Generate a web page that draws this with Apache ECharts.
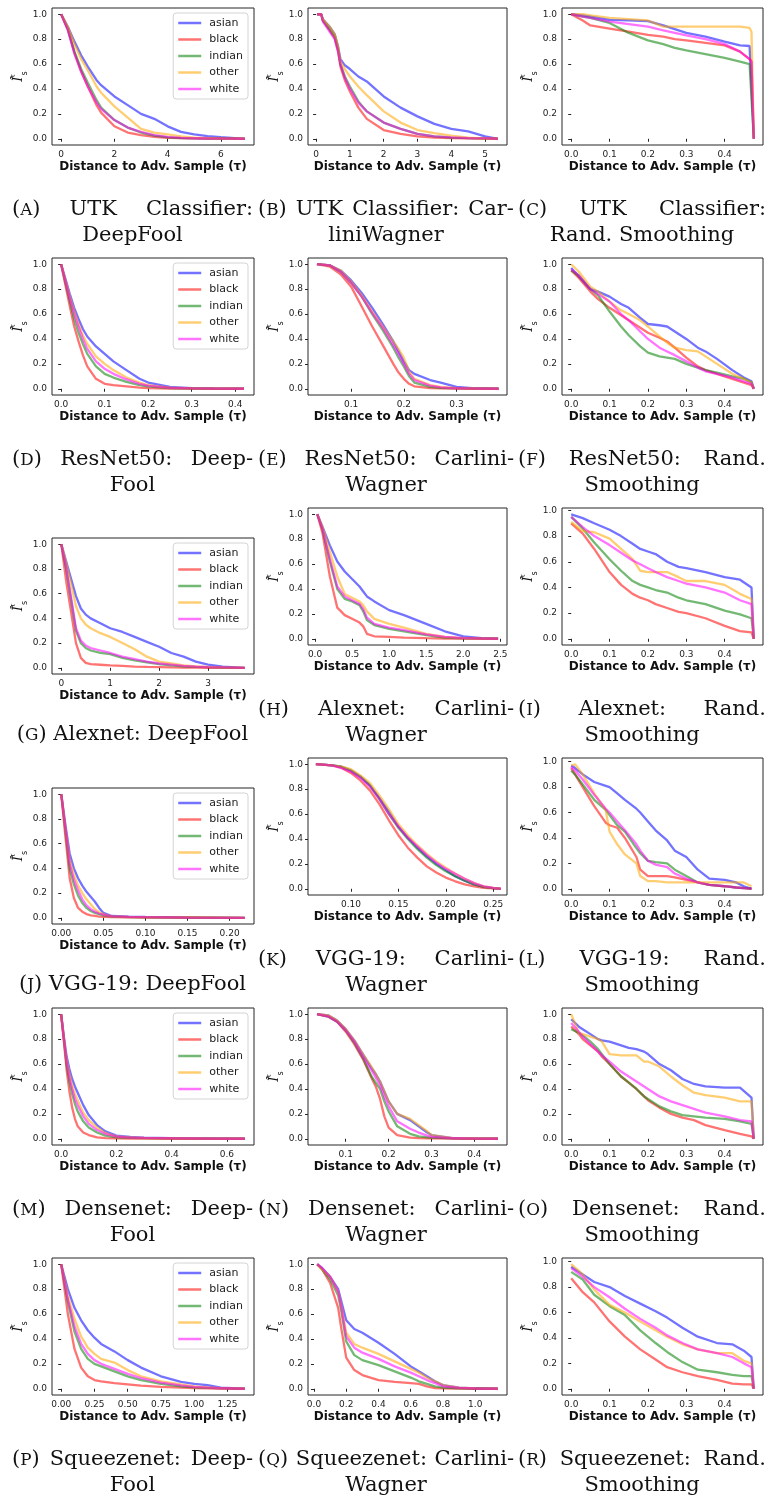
<!doctype html>
<html>
<head>
<meta charset="UTF-8">
<script src="https://cdn.jsdelivr.net/npm/echarts@6/dist/echarts.min.js"></script>
<style>
  body { margin: 0; background: #fff; }
  #wrap { position: relative; width: 771px; height: 1499px; overflow: hidden; }
  #fig { position: absolute; left: 0; top: 0; width: 771px; height: 1499px; }
  .cap { position: absolute; font-family: 'DejaVu Serif', serif; font-size: 21px; color: #111; line-height: 25px; }
  .cap .l1 { display: flex; justify-content: space-between; white-space: nowrap; }
  .cap .l2 { text-align: center; white-space: nowrap; }
  .cap .one { text-align: center; white-space: nowrap; }
  .sc { font-size: 0.8em; }
</style>
</head>
<body>
<div id="wrap"><div id="fig"></div></div>
<script>
// ---- data ----
var groups = ['asian', 'black', 'indian', 'other', 'white'];
var rsTicks = [0, 0.1, 0.2, 0.3, 0.4];
var yTicks = [0, 0.2, 0.4, 0.6, 0.8, 1.0];

// (A) UTK DeepFool
var aX = [0, 0.25, 0.5, 0.75, 1, 1.33, 1.5, 2, 2.5, 3, 3.5, 4, 4.5, 5, 5.5, 6, 6.9];
var aAsian = [1, 0.9, 0.78, 0.67, 0.58, 0.47, 0.43, 0.34, 0.27, 0.2, 0.16, 0.1, 0.055, 0.035, 0.022, 0.013, 0];
var aBlack = [1, 0.88, 0.69, 0.54, 0.42, 0.27, 0.21, 0.1, 0.05, 0.03, 0.015, 0.008, 0.005, 0.003, 0.002, 0.001, 0];
var aIndian = [1, 0.88, 0.7, 0.56, 0.45, 0.31, 0.25, 0.15, 0.09, 0.05, 0.025, 0.012, 0.006, 0.003, 0.001, 0, 0];
var aOther = [1, 0.9, 0.76, 0.64, 0.55, 0.42, 0.37, 0.26, 0.17, 0.08, 0.05, 0.035, 0.02, 0.01, 0.005, 0.002, 0];
var aWhite = [1, 0.87, 0.68, 0.54, 0.42, 0.29, 0.24, 0.15, 0.09, 0.055, 0.03, 0.015, 0.007, 0.004, 0.002, 0.001, 0];
var aTicks = [0, 2, 4, 6];

// (B) UTK CarliniWagner
var bX = [0.03, 0.15, 0.2, 0.4, 0.55, 0.65, 0.72, 0.85, 1.0, 1.25, 1.5, 2, 2.5, 3, 3.5, 4, 4.5, 5, 5.38];
var bAsian = [1, 1, 0.96, 0.9, 0.84, 0.74, 0.64, 0.59, 0.56, 0.5, 0.46, 0.34, 0.25, 0.18, 0.12, 0.08, 0.06, 0.02, 0];
var bBlack = [1, 1, 0.95, 0.87, 0.81, 0.7, 0.58, 0.47, 0.38, 0.25, 0.16, 0.07, 0.04, 0.02, 0.01, 0.005, 0.003, 0.001, 0];
var bIndian = [1, 1, 0.95, 0.88, 0.82, 0.72, 0.6, 0.5, 0.42, 0.3, 0.22, 0.13, 0.08, 0.04, 0.02, 0.01, 0.005, 0.002, 0];
var bOther = [1, 1, 0.96, 0.9, 0.84, 0.74, 0.62, 0.56, 0.5, 0.42, 0.35, 0.22, 0.13, 0.07, 0.045, 0.025, 0.01, 0.002, 0];
var bWhite = [1, 1, 0.94, 0.86, 0.8, 0.7, 0.6, 0.49, 0.4, 0.29, 0.22, 0.13, 0.08, 0.04, 0.02, 0.012, 0.006, 0.003, 0];
var bTicks = [0, 1, 2, 3, 4, 5];

// (C) UTK Rand. Smoothing
var cX = [0, 0.03, 0.05, 0.1, 0.15, 0.2, 0.24, 0.27, 0.3, 0.35, 0.4, 0.44, 0.465, 0.47, 0.476];
var cAsian = [1, 0.99, 0.98, 0.955, 0.95, 0.945, 0.91, 0.88, 0.85, 0.82, 0.78, 0.75, 0.745, 0.74, 0];
var cBlack = [1, 0.95, 0.91, 0.885, 0.86, 0.835, 0.82, 0.8, 0.79, 0.77, 0.75, 0.7, 0.64, 0.62, 0];
var cIndian = [1, 0.98, 0.97, 0.93, 0.85, 0.79, 0.76, 0.73, 0.71, 0.68, 0.65, 0.62, 0.6, 0.59, 0];
var cOther = [1, 1, 0.99, 0.97, 0.96, 0.95, 0.9, 0.9, 0.9, 0.9, 0.9, 0.9, 0.89, 0.86, 0];
var cWhite = [1, 0.98, 0.97, 0.94, 0.92, 0.9, 0.87, 0.85, 0.83, 0.8, 0.76, 0.7, 0.64, 0.62, 0];

// (D) ResNet50 DeepFool
var dX = [0, 0.01, 0.02, 0.03, 0.04, 0.05, 0.06, 0.08, 0.1, 0.12, 0.15, 0.18, 0.2, 0.25, 0.3, 0.35, 0.42];
var dAsian = [1, 0.88, 0.76, 0.65, 0.56, 0.48, 0.42, 0.34, 0.28, 0.22, 0.15, 0.08, 0.05, 0.015, 0.005, 0.002, 0];
var dBlack = [1, 0.83, 0.66, 0.5, 0.38, 0.27, 0.18, 0.08, 0.04, 0.03, 0.02, 0.01, 0.005, 0.002, 0.001, 0, 0];
var dIndian = [1, 0.85, 0.7, 0.56, 0.45, 0.36, 0.28, 0.18, 0.12, 0.09, 0.055, 0.03, 0.02, 0.006, 0.002, 0.001, 0];
var dOther = [1, 0.87, 0.74, 0.62, 0.52, 0.43, 0.36, 0.26, 0.2, 0.15, 0.09, 0.05, 0.03, 0.01, 0.003, 0.001, 0];
var dWhite = [1, 0.86, 0.72, 0.6, 0.5, 0.4, 0.32, 0.22, 0.16, 0.12, 0.075, 0.04, 0.025, 0.008, 0.003, 0.001, 0];

// (E) ResNet50 CarliniWagner
var eX = [0.035, 0.06, 0.08, 0.1, 0.12, 0.14, 0.16, 0.18, 0.19, 0.2, 0.21, 0.22, 0.25, 0.27, 0.3, 0.33, 0.38];
var eAsian = [1, 0.99, 0.95, 0.87, 0.77, 0.65, 0.52, 0.38, 0.3, 0.22, 0.15, 0.12, 0.07, 0.05, 0.015, 0.005, 0];
var eBlack = [1, 0.98, 0.92, 0.82, 0.66, 0.5, 0.35, 0.2, 0.13, 0.08, 0.04, 0.02, 0.005, 0.003, 0.001, 0, 0];
var eIndian = [1, 0.99, 0.94, 0.85, 0.74, 0.6, 0.47, 0.33, 0.25, 0.18, 0.1, 0.05, 0.015, 0.008, 0.003, 0.001, 0];
var eOther = [1, 0.99, 0.95, 0.86, 0.75, 0.62, 0.5, 0.38, 0.32, 0.25, 0.14, 0.08, 0.03, 0.015, 0.005, 0.002, 0];
var eWhite = [1, 0.99, 0.94, 0.85, 0.74, 0.61, 0.49, 0.35, 0.28, 0.2, 0.12, 0.07, 0.025, 0.012, 0.004, 0.001, 0];
var eTicks = [0.1, 0.2, 0.3];

// (F) ResNet50 Rand. Smoothing
var fX = [0, 0.02, 0.05, 0.07, 0.1, 0.13, 0.15, 0.18, 0.2, 0.23, 0.25, 0.27, 0.3, 0.33, 0.35, 0.38, 0.42, 0.45, 0.47, 0.476];
var fAsian = [0.97, 0.9, 0.8, 0.78, 0.74, 0.68, 0.65, 0.57, 0.52, 0.51, 0.5, 0.46, 0.4, 0.33, 0.3, 0.24, 0.15, 0.09, 0.06, 0];
var fBlack = [0.95, 0.89, 0.78, 0.72, 0.65, 0.59, 0.55, 0.49, 0.45, 0.41, 0.38, 0.33, 0.25, 0.18, 0.15, 0.12, 0.08, 0.05, 0.03, 0];
var fIndian = [0.95, 0.91, 0.8, 0.75, 0.62, 0.5, 0.43, 0.34, 0.29, 0.26, 0.25, 0.24, 0.2, 0.17, 0.15, 0.13, 0.1, 0.08, 0.05, 0];
var fOther = [1, 0.94, 0.82, 0.78, 0.7, 0.63, 0.6, 0.55, 0.5, 0.42, 0.37, 0.33, 0.31, 0.3, 0.26, 0.2, 0.12, 0.08, 0.05, 0];
var fWhite = [0.96, 0.91, 0.8, 0.76, 0.7, 0.6, 0.55, 0.46, 0.4, 0.33, 0.3, 0.27, 0.22, 0.17, 0.14, 0.12, 0.09, 0.06, 0.04, 0];

// (G) Alexnet DeepFool
var gX = [0, 0.1, 0.2, 0.3, 0.4, 0.5, 0.6, 0.8, 1.0, 1.25, 1.5, 1.75, 2, 2.25, 2.5, 2.75, 3, 3.3, 3.75];
var gAsian = [1, 0.86, 0.72, 0.58, 0.48, 0.43, 0.4, 0.36, 0.32, 0.29, 0.25, 0.21, 0.17, 0.12, 0.09, 0.05, 0.025, 0.01, 0];
var gBlack = [1, 0.7, 0.45, 0.2, 0.08, 0.04, 0.03, 0.025, 0.02, 0.015, 0.01, 0.007, 0.005, 0.003, 0.002, 0.001, 0, 0, 0];
var gIndian = [1, 0.8, 0.55, 0.3, 0.2, 0.16, 0.14, 0.12, 0.11, 0.08, 0.06, 0.045, 0.03, 0.02, 0.012, 0.008, 0.005, 0.002, 0];
var gOther = [1, 0.85, 0.68, 0.5, 0.4, 0.35, 0.32, 0.28, 0.25, 0.2, 0.15, 0.09, 0.05, 0.035, 0.02, 0.012, 0.008, 0.004, 0];
var gWhite = [1, 0.81, 0.57, 0.32, 0.22, 0.18, 0.16, 0.14, 0.12, 0.09, 0.07, 0.05, 0.035, 0.025, 0.015, 0.01, 0.006, 0.003, 0];
var gTicks = [0, 1, 2, 3];

// (H) Alexnet CarliniWagner
var hX = [0.03, 0.1, 0.2, 0.3, 0.4, 0.5, 0.6, 0.65, 0.7, 0.8, 1.0, 1.2, 1.5, 1.75, 2.0, 2.25, 2.47];
var hAsian = [1, 0.9, 0.75, 0.62, 0.54, 0.48, 0.42, 0.38, 0.34, 0.3, 0.23, 0.19, 0.12, 0.06, 0.02, 0.005, 0];
var hBlack = [1, 0.85, 0.5, 0.25, 0.19, 0.16, 0.13, 0.1, 0.04, 0.02, 0.015, 0.01, 0.005, 0.002, 0.001, 0, 0];
var hIndian = [1, 0.88, 0.62, 0.4, 0.32, 0.3, 0.27, 0.22, 0.15, 0.11, 0.08, 0.06, 0.03, 0.01, 0.003, 0.001, 0];
var hOther = [1, 0.9, 0.7, 0.5, 0.36, 0.33, 0.3, 0.27, 0.22, 0.16, 0.12, 0.09, 0.04, 0.015, 0.005, 0.002, 0];
var hWhite = [1, 0.88, 0.64, 0.42, 0.34, 0.31, 0.28, 0.24, 0.17, 0.12, 0.09, 0.07, 0.035, 0.015, 0.005, 0.002, 0];
var hTicks = [0, 0.5, 1.0, 1.5, 2.0, 2.5];

// (I) Alexnet Rand. Smoothing
var iX = [0, 0.03, 0.06, 0.1, 0.13, 0.16, 0.18, 0.2, 0.22, 0.25, 0.28, 0.3, 0.35, 0.4, 0.44, 0.47, 0.476];
var iAsian = [0.97, 0.94, 0.9, 0.85, 0.8, 0.74, 0.7, 0.68, 0.66, 0.6, 0.56, 0.55, 0.52, 0.48, 0.46, 0.4, 0];
var iBlack = [0.9, 0.82, 0.7, 0.52, 0.42, 0.35, 0.32, 0.3, 0.27, 0.24, 0.21, 0.2, 0.16, 0.1, 0.06, 0.05, 0];
var iIndian = [0.95, 0.86, 0.75, 0.62, 0.53, 0.45, 0.42, 0.4, 0.38, 0.36, 0.32, 0.3, 0.27, 0.22, 0.19, 0.16, 0];
var iOther = [0.91, 0.84, 0.83, 0.78, 0.7, 0.62, 0.53, 0.52, 0.52, 0.52, 0.48, 0.45, 0.45, 0.42, 0.35, 0.31, 0];
var iWhite = [0.95, 0.87, 0.8, 0.73, 0.67, 0.61, 0.58, 0.55, 0.52, 0.48, 0.45, 0.43, 0.4, 0.36, 0.3, 0.27, 0];

// (J) VGG-19 DeepFool
var jX = [0, 0.005, 0.01, 0.015, 0.02, 0.025, 0.03, 0.035, 0.04, 0.045, 0.05, 0.06, 0.08, 0.1, 0.15, 0.218];
var jAsian = [1, 0.75, 0.52, 0.4, 0.32, 0.26, 0.21, 0.17, 0.13, 0.08, 0.04, 0.015, 0.01, 0.007, 0.004, 0];
var jBlack = [1, 0.65, 0.32, 0.16, 0.08, 0.05, 0.03, 0.02, 0.015, 0.01, 0.008, 0.005, 0.003, 0.002, 0.001, 0];
var jIndian = [1, 0.7, 0.4, 0.27, 0.18, 0.12, 0.08, 0.055, 0.04, 0.03, 0.02, 0.01, 0.006, 0.004, 0.002, 0];
var jOther = [1, 0.73, 0.47, 0.35, 0.26, 0.2, 0.15, 0.11, 0.07, 0.045, 0.03, 0.012, 0.008, 0.005, 0.003, 0];
var jWhite = [1, 0.72, 0.44, 0.31, 0.22, 0.15, 0.1, 0.07, 0.05, 0.035, 0.025, 0.012, 0.007, 0.005, 0.002, 0];
var jTicks = [0, 0.05, 0.1, 0.15, 0.2];

// (K) VGG-19 CarliniWagner
var kX = [0.063, 0.08, 0.09, 0.1, 0.11, 0.12, 0.13, 0.14, 0.15, 0.16, 0.17, 0.18, 0.19, 0.2, 0.21, 0.22, 0.23, 0.24, 0.25, 0.258];
var kAsian = [1, 0.99, 0.98, 0.95, 0.9, 0.83, 0.73, 0.62, 0.5, 0.41, 0.33, 0.26, 0.2, 0.15, 0.1, 0.065, 0.035, 0.015, 0.005, 0];
var kBlack = [1, 0.99, 0.97, 0.93, 0.87, 0.79, 0.68, 0.55, 0.43, 0.33, 0.25, 0.18, 0.13, 0.09, 0.06, 0.035, 0.02, 0.008, 0.003, 0];
var kIndian = [1, 0.99, 0.98, 0.95, 0.9, 0.83, 0.72, 0.6, 0.49, 0.4, 0.32, 0.25, 0.19, 0.14, 0.1, 0.065, 0.035, 0.015, 0.005, 0];
var kOther = [1, 0.99, 0.98, 0.96, 0.91, 0.85, 0.75, 0.64, 0.52, 0.43, 0.35, 0.28, 0.22, 0.17, 0.12, 0.08, 0.045, 0.02, 0.007, 0];
var kWhite = [1, 0.99, 0.97, 0.94, 0.89, 0.82, 0.72, 0.6, 0.5, 0.41, 0.34, 0.27, 0.21, 0.16, 0.12, 0.08, 0.045, 0.02, 0.007, 0];
var kTicks = [0.1, 0.15, 0.2, 0.25];

// (L) VGG-19 Rand. Smoothing
var lX = [0, 0.01, 0.03, 0.06, 0.09, 0.1, 0.12, 0.14, 0.17, 0.18, 0.2, 0.22, 0.25, 0.27, 0.3, 0.33, 0.36, 0.4, 0.43, 0.45, 0.47];
var lAsian = [0.97, 0.95, 0.9, 0.84, 0.81, 0.8, 0.75, 0.7, 0.63, 0.6, 0.53, 0.46, 0.38, 0.3, 0.25, 0.15, 0.08, 0.07, 0.05, 0.02, 0];
var lBlack = [0.95, 0.9, 0.8, 0.65, 0.52, 0.5, 0.48, 0.4, 0.25, 0.15, 0.1, 0.1, 0.1, 0.09, 0.07, 0.05, 0.03, 0.02, 0.01, 0.005, 0];
var lIndian = [0.93, 0.9, 0.82, 0.7, 0.62, 0.58, 0.5, 0.45, 0.32, 0.28, 0.22, 0.21, 0.2, 0.15, 0.1, 0.05, 0.03, 0.02, 0.01, 0.005, 0.002];
var lOther = [0.97, 0.98, 0.9, 0.75, 0.62, 0.45, 0.35, 0.27, 0.2, 0.1, 0.06, 0.06, 0.05, 0.05, 0.05, 0.05, 0.05, 0.05, 0.05, 0.05, 0.02];
var lWhite = [0.96, 0.93, 0.86, 0.74, 0.63, 0.6, 0.53, 0.46, 0.35, 0.3, 0.22, 0.19, 0.17, 0.12, 0.08, 0.05, 0.03, 0.02, 0.01, 0.005, 0.002];

// (M) Densenet DeepFool
var mX = [0, 0.01, 0.02, 0.03, 0.04, 0.05, 0.06, 0.08, 0.1, 0.13, 0.16, 0.2, 0.25, 0.3, 0.4, 0.5, 0.665];
var mAsian = [1, 0.82, 0.66, 0.56, 0.48, 0.42, 0.37, 0.27, 0.19, 0.11, 0.06, 0.025, 0.015, 0.01, 0.005, 0.003, 0];
var mBlack = [1, 0.78, 0.55, 0.38, 0.25, 0.16, 0.1, 0.05, 0.03, 0.012, 0.006, 0.003, 0.002, 0.001, 0, 0, 0];
var mIndian = [1, 0.8, 0.59, 0.46, 0.36, 0.28, 0.22, 0.14, 0.09, 0.05, 0.025, 0.012, 0.008, 0.005, 0.003, 0.001, 0];
var mOther = [1, 0.81, 0.63, 0.52, 0.43, 0.36, 0.31, 0.21, 0.15, 0.09, 0.045, 0.02, 0.012, 0.008, 0.004, 0.002, 0];
var mWhite = [1, 0.8, 0.61, 0.49, 0.4, 0.32, 0.27, 0.18, 0.12, 0.07, 0.04, 0.018, 0.01, 0.007, 0.004, 0.002, 0];
var mTicks = [0, 0.2, 0.4, 0.6];

// (N) Densenet CarliniWagner
var nX = [0.033, 0.06, 0.08, 0.1, 0.12, 0.14, 0.16, 0.17, 0.18, 0.19, 0.2, 0.22, 0.25, 0.27, 0.29, 0.3, 0.35, 0.4, 0.455];
var nAsian = [1, 0.99, 0.95, 0.88, 0.79, 0.68, 0.57, 0.52, 0.46, 0.38, 0.3, 0.2, 0.15, 0.1, 0.05, 0.03, 0.006, 0.002, 0];
var nBlack = [1, 0.98, 0.94, 0.86, 0.76, 0.64, 0.49, 0.42, 0.32, 0.18, 0.09, 0.03, 0.01, 0.006, 0.004, 0.003, 0.001, 0, 0];
var nIndian = [1, 0.98, 0.94, 0.87, 0.77, 0.65, 0.5, 0.45, 0.4, 0.3, 0.22, 0.1, 0.04, 0.02, 0.012, 0.01, 0.003, 0.001, 0];
var nOther = [1, 0.99, 0.95, 0.88, 0.79, 0.68, 0.58, 0.52, 0.46, 0.38, 0.3, 0.2, 0.16, 0.11, 0.06, 0.03, 0.006, 0.002, 0];
var nWhite = [1, 0.98, 0.94, 0.87, 0.78, 0.66, 0.55, 0.49, 0.43, 0.34, 0.26, 0.14, 0.08, 0.05, 0.025, 0.015, 0.004, 0.001, 0];
var nTicks = [0.1, 0.2, 0.3, 0.4];

// (O) Densenet Rand. Smoothing
var oX = [0, 0.02, 0.03, 0.05, 0.07, 0.08, 0.1, 0.13, 0.15, 0.17, 0.19, 0.2, 0.23, 0.26, 0.29, 0.32, 0.35, 0.4, 0.44, 0.47, 0.476];
var oAsian = [0.96, 0.9, 0.88, 0.84, 0.8, 0.79, 0.78, 0.75, 0.73, 0.72, 0.7, 0.68, 0.6, 0.55, 0.48, 0.44, 0.42, 0.41, 0.41, 0.33, 0];
var oBlack = [0.9, 0.84, 0.8, 0.75, 0.7, 0.66, 0.6, 0.5, 0.45, 0.4, 0.34, 0.31, 0.25, 0.2, 0.17, 0.15, 0.11, 0.07, 0.04, 0.02, 0];
var oIndian = [0.88, 0.85, 0.83, 0.78, 0.72, 0.68, 0.6, 0.5, 0.45, 0.4, 0.34, 0.32, 0.26, 0.22, 0.19, 0.18, 0.17, 0.16, 0.14, 0.12, 0];
var oOther = [1, 0.85, 0.84, 0.82, 0.8, 0.78, 0.68, 0.67, 0.67, 0.67, 0.62, 0.62, 0.58, 0.5, 0.43, 0.37, 0.35, 0.33, 0.3, 0.3, 0];
var oWhite = [0.93, 0.86, 0.82, 0.76, 0.7, 0.67, 0.62, 0.54, 0.5, 0.46, 0.42, 0.4, 0.34, 0.3, 0.27, 0.24, 0.21, 0.18, 0.15, 0.14, 0];

// (P) Squeezenet DeepFool
var pX = [0, 0.05, 0.1, 0.15, 0.2, 0.25, 0.3, 0.4, 0.5, 0.6, 0.75, 0.9, 1.0, 1.1, 1.2, 1.38];
var pAsian = [1, 0.8, 0.65, 0.55, 0.47, 0.41, 0.36, 0.3, 0.23, 0.17, 0.1, 0.055, 0.04, 0.03, 0.01, 0];
var pBlack = [1, 0.6, 0.32, 0.17, 0.1, 0.07, 0.06, 0.045, 0.035, 0.025, 0.015, 0.01, 0.005, 0.003, 0.001, 0];
var pIndian = [1, 0.7, 0.46, 0.32, 0.24, 0.2, 0.18, 0.14, 0.1, 0.07, 0.04, 0.02, 0.012, 0.008, 0.003, 0];
var pOther = [1, 0.75, 0.56, 0.42, 0.33, 0.28, 0.24, 0.21, 0.15, 0.1, 0.06, 0.035, 0.02, 0.012, 0.005, 0];
var pWhite = [1, 0.72, 0.5, 0.36, 0.28, 0.23, 0.2, 0.16, 0.12, 0.085, 0.05, 0.028, 0.016, 0.01, 0.004, 0];
var pTicks = [0, 0.25, 0.5, 0.75, 1.0, 1.25];

// (Q) Squeezenet CarliniWagner
var qX = [0.02, 0.05, 0.1, 0.15, 0.17, 0.2, 0.25, 0.3, 0.4, 0.5, 0.6, 0.65, 0.7, 0.75, 0.8, 0.9, 1.0, 1.14];
var qAsian = [1, 0.97, 0.9, 0.8, 0.7, 0.55, 0.48, 0.45, 0.37, 0.28, 0.18, 0.14, 0.1, 0.06, 0.03, 0.01, 0.004, 0];
var qBlack = [1, 0.96, 0.85, 0.65, 0.48, 0.25, 0.15, 0.11, 0.07, 0.055, 0.045, 0.04, 0.02, 0.005, 0.003, 0.001, 0, 0];
var qIndian = [1, 0.96, 0.88, 0.75, 0.62, 0.38, 0.27, 0.23, 0.19, 0.14, 0.09, 0.06, 0.04, 0.02, 0.01, 0.004, 0.001, 0];
var qOther = [1, 0.96, 0.9, 0.78, 0.66, 0.45, 0.36, 0.33, 0.28, 0.22, 0.16, 0.13, 0.09, 0.06, 0.03, 0.01, 0.003, 0];
var qWhite = [1, 0.97, 0.9, 0.78, 0.65, 0.42, 0.33, 0.29, 0.24, 0.18, 0.13, 0.1, 0.07, 0.045, 0.02, 0.008, 0.002, 0];
var qTicks = [0, 0.2, 0.4, 0.6, 0.8, 1.0];

// (R) Squeezenet Rand. Smoothing
var rX = [0, 0.03, 0.06, 0.1, 0.14, 0.18, 0.22, 0.25, 0.29, 0.33, 0.38, 0.42, 0.45, 0.47, 0.476];
var rAsian = [0.96, 0.9, 0.84, 0.8, 0.73, 0.67, 0.61, 0.56, 0.48, 0.41, 0.36, 0.35, 0.3, 0.25, 0];
var rBlack = [0.87, 0.76, 0.68, 0.53, 0.41, 0.31, 0.23, 0.17, 0.13, 0.1, 0.07, 0.04, 0.035, 0.035, 0];
var rIndian = [0.92, 0.86, 0.74, 0.65, 0.58, 0.46, 0.36, 0.29, 0.21, 0.15, 0.13, 0.11, 0.1, 0.1, 0];
var rOther = [0.98, 0.9, 0.78, 0.66, 0.6, 0.53, 0.46, 0.41, 0.35, 0.31, 0.28, 0.28, 0.22, 0.2, 0];
var rWhite = [0.95, 0.88, 0.8, 0.72, 0.63, 0.55, 0.48, 0.42, 0.36, 0.31, 0.28, 0.25, 0.2, 0.17, 0];

// ---- layout ----
var colors = ['#0000ff', '#ff0000', '#008000', '#ffa500', '#ff00ff'];
var colLeft = [52, 308, 562];
var colWidth = [202, 199, 201];
var capLeft = [12, 258, 518];
var capWidth = [241, 256, 248];

var panels = [
  {row: 0, col: 0, x: aX, y: [aAsian, aBlack, aIndian, aOther, aWhite], xMin: -0.345, xMax: 7.245, ticks: aTicks, dec: 0, legend: true,
   cap: [['(', 'A', ')'], ['UTK', 'Classifier:'], 'DeepFool']},
  {row: 0, col: 1, x: bX, y: [bAsian, bBlack, bIndian, bOther, bWhite], xMin: -0.24, xMax: 5.65, ticks: bTicks, dec: 0,
   cap: [['(', 'B', ')'], ['UTK', 'Classifier:', 'Car-'], 'liniWagner']},
  {row: 0, col: 2, x: cX, y: [cAsian, cBlack, cIndian, cOther, cWhite], xMin: -0.024, xMax: 0.5, ticks: rsTicks, dec: 1,
   cap: [['(', 'C', ')'], ['UTK', 'Classifier:'], 'Rand. Smoothing']},
  {row: 1, col: 0, x: dX, y: [dAsian, dBlack, dIndian, dOther, dWhite], xMin: -0.021, xMax: 0.443, ticks: rsTicks, dec: 1, legend: true,
   cap: [['(', 'D', ')'], ['ResNet50:', 'Deep-'], 'Fool']},
  {row: 1, col: 1, x: eX, y: [eAsian, eBlack, eIndian, eOther, eWhite], xMin: 0.018, xMax: 0.396, ticks: eTicks, dec: 1,
   cap: [['(', 'E', ')'], ['ResNet50:', 'Carlini-'], 'Wagner']},
  {row: 1, col: 2, x: fX, y: [fAsian, fBlack, fIndian, fOther, fWhite], xMin: -0.024, xMax: 0.5, ticks: rsTicks, dec: 1,
   cap: [['(', 'F', ')'], ['ResNet50:', 'Rand.'], 'Smoothing']},
  {row: 2, col: 0, shift: 30, x: gX, y: [gAsian, gBlack, gIndian, gOther, gWhite], xMin: -0.19, xMax: 3.94, ticks: gTicks, dec: 0, legend: true,
   cap: [['(', 'G', ')'], ['Alexnet:', 'DeepFool']]},
  {row: 2, col: 1, x: hX, y: [hAsian, hBlack, hIndian, hOther, hWhite], xMin: -0.095, xMax: 2.59, ticks: hTicks, dec: 1,
   cap: [['(', 'H', ')'], ['Alexnet:', 'Carlini-'], 'Wagner']},
  {row: 2, col: 2, x: iX, y: [iAsian, iBlack, iIndian, iOther, iWhite], xMin: -0.024, xMax: 0.5, yMax: 1.019, ticks: rsTicks, dec: 1,
   cap: [['(', 'I', ')'], ['Alexnet:', 'Rand.'], 'Smoothing']},
  {row: 3, col: 0, shift: 30, x: jX, y: [jAsian, jBlack, jIndian, jOther, jWhite], xMin: -0.011, xMax: 0.229, ticks: jTicks, dec: 2, legend: true,
   cap: [['(', 'J', ')'], ['VGG-19:', 'DeepFool']]},
  {row: 3, col: 1, x: kX, y: [kAsian, kBlack, kIndian, kOther, kWhite], xMin: 0.0547, xMax: 0.2646, ticks: kTicks, dec: 2,
   cap: [['(', 'K', ')'], ['VGG-19:', 'Carlini-'], 'Wagner']},
  {row: 3, col: 2, x: lX, y: [lAsian, lBlack, lIndian, lOther, lWhite], xMin: -0.024, xMax: 0.5, yMax: 1.029, ticks: rsTicks, dec: 1,
   cap: [['(', 'L', ')'], ['VGG-19:', 'Rand.'], 'Smoothing']},
  {row: 4, col: 0, x: mX, y: [mAsian, mBlack, mIndian, mOther, mWhite], xMin: -0.033, xMax: 0.698, ticks: mTicks, dec: 1, legend: true,
   cap: [['(', 'M', ')'], ['Densenet:', 'Deep-'], 'Fool']},
  {row: 4, col: 1, x: nX, y: [nAsian, nBlack, nIndian, nOther, nWhite], xMin: 0.012, xMax: 0.476, ticks: nTicks, dec: 1,
   cap: [['(', 'N', ')'], ['Densenet:', 'Carlini-'], 'Wagner']},
  {row: 4, col: 2, x: oX, y: [oAsian, oBlack, oIndian, oOther, oWhite], xMin: -0.024, xMax: 0.5, ticks: rsTicks, dec: 1,
   cap: [['(', 'O', ')'], ['Densenet:', 'Rand.'], 'Smoothing']},
  {row: 5, col: 0, x: pX, y: [pAsian, pBlack, pIndian, pOther, pWhite], xMin: -0.069, xMax: 1.449, ticks: pTicks, dec: 2, legend: true,
   cap: [['(', 'P', ')'], ['Squeezenet:', 'Deep-'], 'Fool']},
  {row: 5, col: 1, x: qX, y: [qAsian, qBlack, qIndian, qOther, qWhite], xMin: -0.037, xMax: 1.197, ticks: qTicks, dec: 1,
   cap: [['(', 'Q', ')'], ['Squeezenet:', 'Carlini-'], 'Wagner']},
  {row: 5, col: 2, x: rX, y: [rAsian, rBlack, rIndian, rOther, rWhite], xMin: -0.024, xMax: 0.5, yMax: 1.029, ticks: rsTicks, dec: 1,
   cap: [['(', 'R', ')'], ['Squeezenet:', 'Rand.'], 'Smoothing']}
];

var grids = [], xAxes = [], yAxes = [], series = [], legends = [];
var tickFont = {fontFamily: 'DejaVu Sans', fontSize: 9, color: '#222'};

panels.forEach(function (p, i) {
  var top = 8 + 250 * p.row + (p.shift || 0);
  var h = p.shift ? 136 : 137;
  var yMax = p.yMax || 1.05;
  grids.push({left: colLeft[p.col], top: top, width: colWidth[p.col], height: h,
    show: true, borderColor: '#262626', borderWidth: 1, backgroundColor: 'transparent'});
  xAxes.push({
    gridIndex: i, type: 'value', min: p.xMin, max: p.xMax,
    axisLine: {show: false}, splitLine: {show: false},
    axisTick: {show: true, length: 3, customValues: p.ticks, lineStyle: {color: '#262626'}},
    axisLabel: Object.assign({customValues: p.ticks, margin: 5,
      formatter: function (v) { return v.toFixed(p.dec); }}, tickFont),
    name: 'Distance to Adv. Sample (τ)', nameLocation: 'middle', nameGap: 16,
    nameTextStyle: {fontFamily: 'DejaVu Sans', fontWeight: 'bold', fontSize: 12, color: '#111'}
  });
  yAxes.push({
    gridIndex: i, type: 'value', min: -0.05 * yMax / 1.05, max: yMax,
    axisLine: {show: false}, splitLine: {show: false},
    axisTick: {show: true, length: 3, customValues: yTicks, lineStyle: {color: '#262626'}},
    axisLabel: Object.assign({customValues: yTicks, margin: 5,
      formatter: function (v) { return v.toFixed(1); }}, tickFont),
    name: '{i|Î}{t|τ}{s|s}', nameLocation: 'middle', nameGap: 21, nameRotate: 90,
    nameTextStyle: {color: '#111', rich: {
      i: {fontFamily: 'DejaVu Serif', fontStyle: 'italic', fontSize: 13, lineHeight: 20, color: '#111'},
      t: {fontFamily: 'DejaVu Serif', fontSize: 8, verticalAlign: 'top', lineHeight: 20, width: 1, color: '#111'},
      s: {fontFamily: 'DejaVu Sans', fontSize: 8, verticalAlign: 'bottom', lineHeight: 20, color: '#111'}
    }}
  });
  groups.forEach(function (g, k) {
    series.push({
      name: g, type: 'line', xAxisIndex: i, yAxisIndex: i,
      data: p.x.map(function (xv, j) { return [xv, p.y[k][j]]; }),
      symbol: 'none', showSymbol: false, silent: true,
      color: colors[k],
      lineStyle: {width: 2.3, color: colors[k], opacity: 0.55}
    });
  });
  if (p.legend) {
    legends.push({
      orient: 'vertical', right: 771 - (colLeft[p.col] + colWidth[p.col]) + 6, top: top + 5,
      data: groups, icon: 'rect', itemWidth: 23, itemHeight: 2.5, itemGap: 4.5,
      itemStyle: {opacity: 0.55}, selectedMode: false,
      textStyle: {fontFamily: 'DejaVu Sans', fontSize: 11, color: '#222', lineHeight: 12, padding: [0, 0, 0, 3]},
      padding: [4, 5, 4, 5], backgroundColor: '#fff', borderColor: '#d4d4d4', borderWidth: 1, borderRadius: 3
    });
  }
});

var chart = echarts.init(document.getElementById('fig'));
chart.setOption({
  animation: false,
  grid: grids, xAxis: xAxes, yAxis: yAxes, legend: legends, series: series
});

// ---- captions ----
var wrap = document.getElementById('wrap');
panels.forEach(function (p) {
  var div = document.createElement('div');
  div.className = 'cap';
  div.style.left = capLeft[p.col] + 'px';
  div.style.width = capWidth[p.col] + 'px';
  var lab = p.cap[0][0] + '<span class="sc">' + p.cap[0][1] + '</span>' + p.cap[0][2];
  var base = 195.5 + 250 * p.row;
  if (p.cap.length > 2) {
    div.style.top = base + 'px';
    var words = [lab].concat(p.cap[1]).map(function (w) { return '<span>' + w + '</span>'; }).join('');
    div.innerHTML = '<div class="l1">' + words + '</div><div class="l2">' + p.cap[2] + '</div>';
  } else {
    div.style.top = (base + 25) + 'px';
    div.innerHTML = '<div class="one">' + lab + ' ' + p.cap[1].join(' ') + '</div>';
  }
  wrap.appendChild(div);
});
</script>
</body>
</html>
